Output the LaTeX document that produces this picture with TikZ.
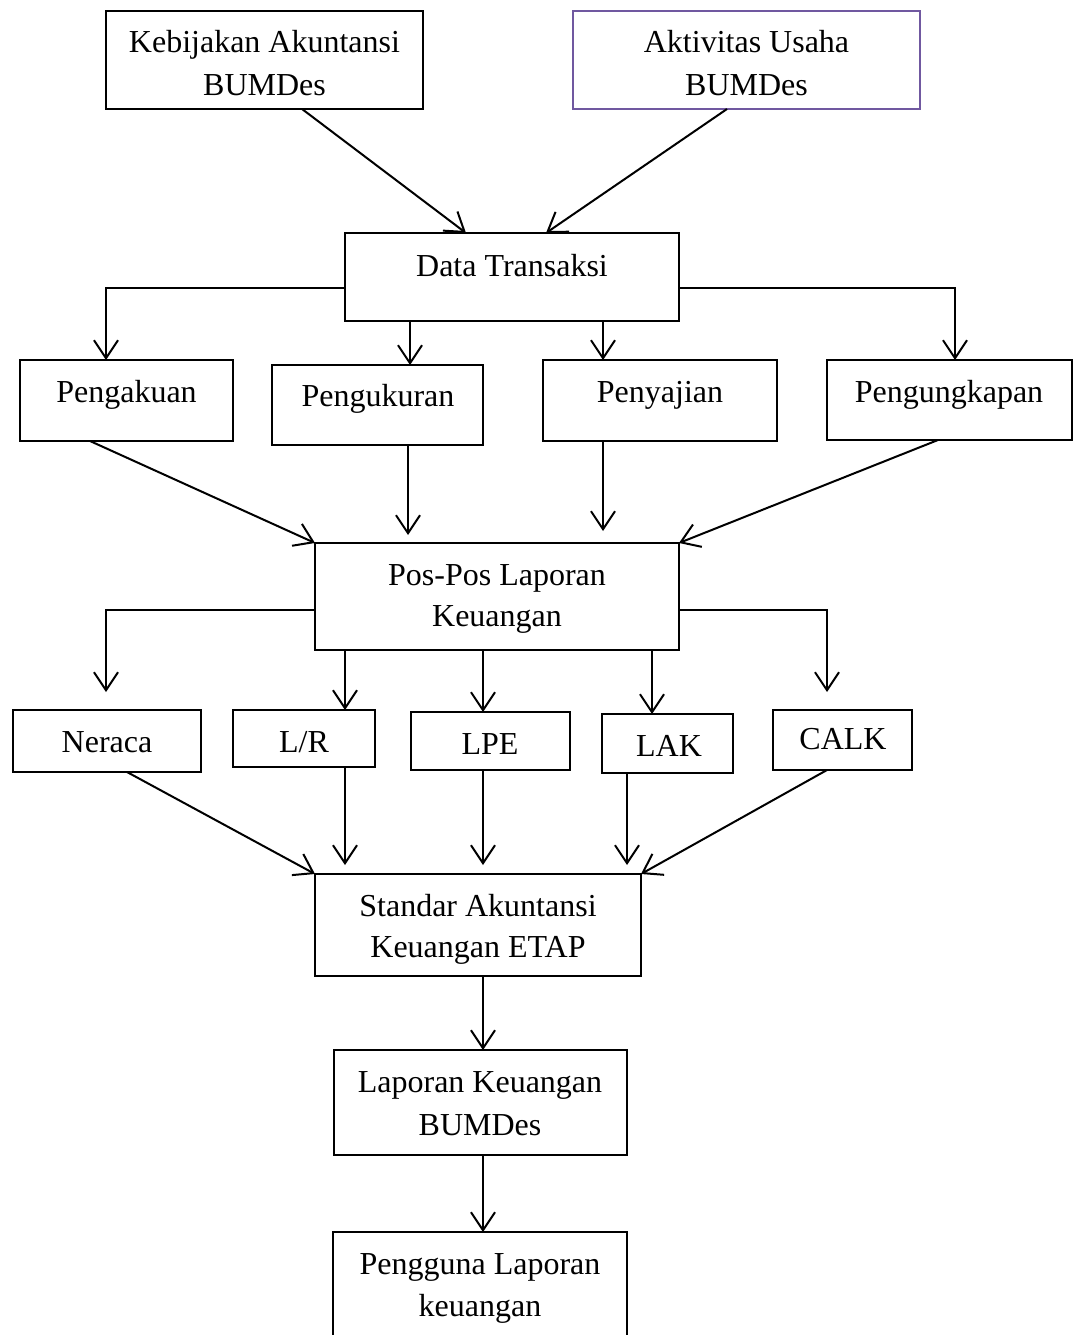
\documentclass[tikz,border=0pt]{standalone}
\usepackage{fontspec}
\setmainfont{Liberation Serif}
\usetikzlibrary{arrows.meta}
\definecolor{boxpurple}{RGB}{112,88,160}
\newcommand{\mybox}[6][black]{%
  \node[box,draw=#1,minimum width={#5-#3},minimum height={#6-#4}] (#2) at ({(#3+#5)/2},{(#4+#6)/2}) {};}
\begin{document}
\begin{tikzpicture}[x=1pt,y=-1pt,
  box/.style={draw,line width=2pt,inner sep=0pt,outer sep=0pt},
  txt/.style={anchor=base,inner sep=0pt,font=\fontsize{32}{42}\selectfont},
  arr/.style={line width=2pt,-{Straight Barb[length=18pt,width=24pt,line width=2pt]}},
  ln/.style={line width=2pt}]
\useasboundingbox (0,0) rectangle (1075,1335);
% boxes
\mybox{kb}{106}{11}{423}{109}
\mybox[boxpurple]{ak}{573}{11}{920}{109}
\mybox{dt}{345}{233}{679}{321}
\mybox{pa}{20}{360}{233}{441}
\mybox{pu}{272}{365}{483}{445}
\mybox{ps}{543}{360}{777}{441}
\mybox{pg}{827}{360}{1072}{440}
\mybox{pp}{315}{543}{679}{650}
\mybox{ne}{13}{710}{201}{772}
\mybox{lr}{233}{710}{375}{767}
\mybox{lpe}{411}{712}{570}{770}
\mybox{lak}{602}{714}{733}{773}
\mybox{calk}{773}{710}{912}{770}
\mybox{sa}{315}{874}{641}{976}
\mybox{lk}{334}{1050}{627}{1155}
\mybox{pl}{333}{1232}{627}{1345}
% texts
\node[txt] (t1a) at (264.5,53) {Kebijakan Akuntansi};
\node[txt] (t1b) at (264.5,96) {BUMDes};
\node[txt] (t2a) at (746.5,53) {Aktivitas Usaha};
\node[txt] (t2b) at (746.5,96) {BUMDes};
\node[txt] (t3) at (512,276) {Data Transaksi};
\node[txt] (t4) at (126.5,402) {Pengakuan};
\node[txt] (t5) at (378,406) {Pengukuran};
\node[txt] (t6) at (660,402) {Penyajian};
\node[txt] (t7) at (949,402) {Pengungkapan};
\node[txt] (t8a) at (497,585) {Pos-Pos Laporan};
\node[txt] (t8b) at (497,626) {Keuangan};
\node[txt] (t9) at (107,752) {Neraca};
\node[txt] (t10) at (304,752) {L/R};
\node[txt] (t11) at (490,754) {LPE};
\node[txt] (t12) at (669,756) {LAK};
\node[txt] (t13) at (843,749) {CALK};
\node[txt] (t14a) at (478,916) {Standar Akuntansi};
\node[txt] (t14b) at (478,957) {Keuangan ETAP};
\node[txt] (t15a) at (480,1092) {Laporan Keuangan};
\node[txt] (t15b) at (480,1135) {BUMDes};
\node[txt] (t16a) at (480,1274) {Pengguna Laporan};
\node[txt] (t16b) at (480,1316) {keuangan};
% connectors level 1
\draw[arr] ([xshift=37.5pt]kb.south) -- ([xshift=-46pt]dt.north);
\draw[arr] ([xshift=-19.5pt]ak.south) -- ([xshift=34pt]dt.north);
% level 2
\draw[arr] ([yshift=-11pt]dt.west) -| ([xshift=-20.5pt]pa.north);
\draw[arr] ([yshift=-11pt]dt.east) -| ([xshift=5.5pt]pg.north);
\coordinate (d1) at ([xshift=-102pt]dt.south);
\coordinate (d2) at ([xshift=91pt]dt.south);
\draw[arr] (d1) -- (d1 |- pu.north);
\draw[arr] (d2) -- (d2 |- ps.north);
% level 3
\draw[arr] ([xshift=-36.5pt]pa.south) -- (pp.north west);
\coordinate (e1) at ([xshift=30.5pt]pu.south);
\coordinate (e2) at ([xshift=-57pt]ps.south);
\draw[arr,shorten >=8pt] (e1) -- (e1 |- pp.north);
\draw[arr,shorten >=12pt] (e2) -- (e2 |- pp.north);
\draw[arr] ([xshift=-11.5pt]pg.south) -- (pp.north east);
% level 4
\draw[arr,shorten >=18pt] ([yshift=-13.5pt]pp.west) -| ([xshift=-1pt]ne.north);
\draw[arr,shorten >=18pt] ([yshift=-13.5pt]pp.east) -| ([xshift=-15.5pt]calk.north);
\coordinate (f1) at ([xshift=-152pt]pp.south);
\coordinate (f2) at ([xshift=-14pt]pp.south);
\coordinate (f3) at ([xshift=155pt]pp.south);
\draw[arr] (f1) -- (f1 |- lr.north);
\draw[arr] (f2) -- (f2 |- lpe.north);
\draw[arr] (f3) -- (f3 |- lak.north);
% level 5
\draw[arr] ([xshift=20pt]ne.south) -- (sa.north west);
\coordinate (g1) at ([xshift=41pt]lr.south);
\coordinate (g2) at ([xshift=-7.5pt]lpe.south);
\coordinate (g3) at ([xshift=-40.5pt]lak.south);
\draw[arr,shorten >=9pt] (g1) -- (g1 |- sa.north);
\draw[arr,shorten >=9pt] (g2) -- (g2 |- sa.north);
\draw[arr,shorten >=9pt] (g3) -- (g3 |- sa.north);
\draw[arr] ([xshift=-15.5pt]calk.south) -- (sa.north east);
% level 6
\coordinate (h1) at ([xshift=5pt]sa.south);
\coordinate (h2) at ([xshift=2.5pt]lk.south);
\draw[arr] (h1) -- (h1 |- lk.north);
\draw[arr] (h2) -- (h2 |- pl.north);
\end{tikzpicture}
\end{document}
